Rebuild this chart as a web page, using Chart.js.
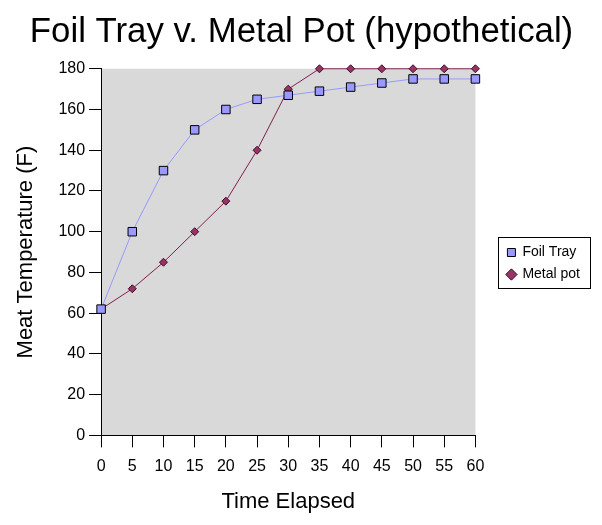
<!DOCTYPE html>
<html>
<head>
<meta charset="utf-8">
<script src="https://cdn.jsdelivr.net/npm/chart.js@4.4.1/dist/chart.umd.min.js"></script>
<style>
  html, body { margin: 0; padding: 0; background: #fff; }
  #wrap { width: 602px; height: 525px; }
</style>
</head>
<body>
<div id="wrap"><canvas id="chart" width="602" height="525"></canvas></div>
<script>
const minutes = [0, 5, 10, 15, 20, 25, 30, 35, 40, 45, 50, 55, 60];
const foilTray = [62, 100, 130, 150, 160, 165, 167, 169, 171, 173, 175, 175, 175];
const metalPot = [62, 72, 85, 100, 115, 140, 170, 180, 180, 180, 180, 180, 180];
const yTicks = [0, 20, 40, 60, 80, 100, 120, 140, 160, 180];

const FONT = "'Liberation Sans', Arial, sans-serif";
const LEGEND_GAP = 24; // space between plot area and legend box
const LEGEND_SHIFT_Y = 6;

const toPoints = (values) => values.map((v, i) => ({ x: minutes[i], y: v }));

// grey plot area + bordered legend, like the old Excel chart
const excelLook = {
  id: "excelLook",
  beforeLayout(chart) {
    const lg = chart.legend;
    if (lg && !lg._widened) {
      const fit = lg.fit;
      lg.fit = function () {
        fit.call(this);
        this.width += LEGEND_GAP;
      };
      lg._widened = true;
    }
  },
  afterLayout(chart) {
    const lg = chart.legend;
    if (!lg) return;
    lg.left += LEGEND_GAP;
    lg.top += LEGEND_SHIFT_Y;
    lg.bottom += LEGEND_SHIFT_Y;
  },
  beforeDraw(chart) {
    const { ctx, chartArea } = chart;
    ctx.save();
    ctx.fillStyle = "#d9d9d9";
    ctx.fillRect(chartArea.left, chartArea.top, chartArea.width, chartArea.height);
    ctx.restore();
  },
  afterDraw(chart) {
    const boxes = chart.legend.legendHitBoxes;
    if (!boxes || !boxes.length) return;
    const left = Math.min(...boxes.map((b) => b.left)) - 9;
    const top = Math.min(...boxes.map((b) => b.top)) - 9;
    const right = Math.max(...boxes.map((b) => b.left + b.width)) + 10;
    const bottom = Math.max(...boxes.map((b) => b.top + b.height)) + 6;
    const { ctx } = chart;
    ctx.save();
    ctx.strokeStyle = "#000";
    ctx.lineWidth = 1;
    ctx.strokeRect(Math.round(left) + 0.5, Math.round(top) + 0.5, Math.round(right - left), Math.round(bottom - top));
    ctx.restore();
  },
};

new Chart(document.getElementById("chart"), {
  type: "line",
  data: {
    datasets: [
      {
        label: "Foil Tray",
        data: toPoints(foilTray),
        borderColor: "#9999ff",
        borderWidth: 1,
        backgroundColor: "#9999ff",
        pointStyle: "rect",
        pointRadius: 6,
        pointBorderColor: "#000",
        pointBorderWidth: 1,
        pointBackgroundColor: "#9999ff",
        tension: 0,
        clip: false,
      },
      {
        label: "Metal pot",
        data: toPoints(metalPot),
        borderColor: "#802050",
        borderWidth: 1,
        backgroundColor: "#993366",
        pointStyle: "rectRot",
        pointRadius: 4,
        pointBorderColor: "#3a1025",
        pointBorderWidth: 1,
        pointBackgroundColor: "#993366",
        tension: 0,
        clip: false,
      },
    ],
  },
  options: {
    responsive: false,
    animation: false,
    layout: {
      padding: { left: 13, right: 12, top: 0, bottom: 10 },
    },
    plugins: {
      title: {
        display: true,
        text: "Foil Tray v. Metal Pot (hypothetical)",
        color: "#000",
        font: { family: FONT, size: 34.8, weight: "normal" },
        padding: { top: 12, bottom: 15 },
      },
      legend: {
        display: true,
        position: "right",
        labels: {
          color: "#000",
          font: { family: FONT, size: 14 },
          usePointStyle: true,
          boxWidth: 8,
          boxHeight: 8,
          padding: 8,
        },
      },
      tooltip: { enabled: false },
    },
    scales: {
      x: {
        type: "linear",
        min: 0,
        max: 60,
        afterBuildTicks(axis) {
          axis.ticks = minutes.map((v) => ({ value: v }));
        },
        border: { display: true, color: "#000", width: 1 },
        grid: {
          display: true,
          drawOnChartArea: false,
          drawTicks: true,
          tickLength: 12,
          color: "#000",
        },
        ticks: {
          color: "#000",
          font: { family: FONT, size: 16 },
          padding: 10,
          maxRotation: 0,
        },
        title: {
          display: true,
          text: "Time Elapsed",
          color: "#000",
          font: { family: FONT, size: 22 },
          padding: { top: 2, bottom: 0 },
        },
      },
      y: {
        min: 0,
        max: 180,
        afterBuildTicks(axis) {
          axis.ticks = yTicks.map((v) => ({ value: v }));
        },
        border: { display: true, color: "#000", width: 1 },
        grid: {
          display: true,
          drawOnChartArea: false,
          drawTicks: true,
          tickLength: 12,
          color: "#000",
        },
        ticks: {
          color: "#000",
          font: { family: FONT, size: 16 },
          padding: 4,
        },
        title: {
          display: true,
          text: "Meat Temperature (F)",
          color: "#000",
          font: { family: FONT, size: 22 },
          padding: { top: 0, bottom: 15 },
        },
      },
    },
  },
  plugins: [excelLook],
});
</script>
</body>
</html>
